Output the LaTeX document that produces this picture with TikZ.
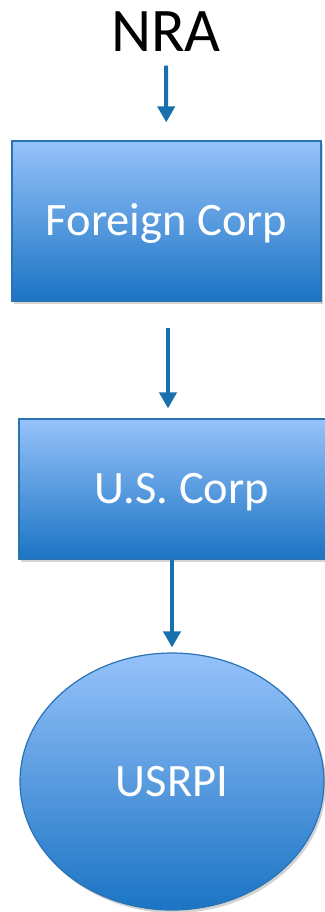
\documentclass[tikz,border=0pt]{standalone}
\usepackage{fontspec}
\setmainfont{Carlito}
\usetikzlibrary{arrows.meta,positioning,shapes.geometric,shadows}

\definecolor{linkblue}{RGB}{24,112,172}
\definecolor{edgeblue}{RGB}{40,115,180}
\definecolor{topblue}{RGB}{150,194,250}
\definecolor{lowblue}{RGB}{27,116,196}

\tikzset{
  entity/.style={draw=edgeblue, line width=1.2pt, top color=topblue, bottom color=lowblue,
    text=white, font=\fontsize{46.5}{50}\selectfont, text height=29pt, text depth=0pt,
    inner sep=0pt, drop shadow={shadow xshift=2pt, shadow yshift=-3pt, opacity=0.35}},
  link/.style={->, linkblue, line width=4pt}
}

\begin{document}
\begin{tikzpicture}[x=1pt, y=-1pt, >={Triangle[width=17pt,length=16pt]}]
        \useasboundingbox (0,0) rectangle (324,912);
        \node[inner sep=0pt, font=\fontsize{62}{66}\selectfont, text height=39pt, text depth=0pt] (NRA) at (166,32) {NRA};
        \node[entity, minimum width=309pt, minimum height=160pt] (FC) at (166.5,221) {Foreign Corp};
        \node[entity, minimum width=311pt, minimum height=140pt] (US) at (174.5,489) {\hspace*{15pt}U.S. Corp};
        \node[entity, ellipse, minimum width=304pt, minimum height=257pt] (RP) at (172,781.5) {USRPI};

        \draw[link, shorten <=14pt, shorten >=18pt] (NRA) to (FC);
        \draw[link, shorten <=26pt, shorten >=10pt] ([xshift=1.5pt]FC.south) to ([xshift=-6.5pt]US.north);
        \draw[link, shorten >=5pt] ([xshift=-2.5pt]US.south) to (RP.north);
      \end{tikzpicture}
\end{document}
